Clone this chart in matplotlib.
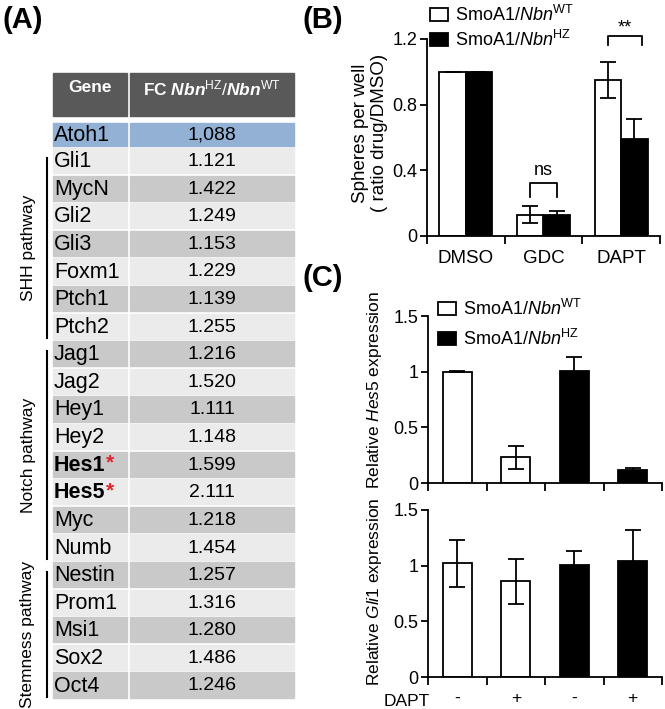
import matplotlib
matplotlib.use("Agg")
import matplotlib.pyplot as plt
from matplotlib.patches import Rectangle

plt.rcParams['font.family'] = 'Liberation Sans'
plt.rcParams['mathtext.fontset'] = 'custom'
plt.rcParams['mathtext.rm'] = 'Liberation Sans'
plt.rcParams['mathtext.it'] = 'Liberation Sans:italic'
plt.rcParams['mathtext.bf'] = 'Liberation Sans:bold'
plt.rcParams['mathtext.bfit'] = 'Liberation Sans:italic:bold'

W, H = 665, 709

# ---------------------------------------------------------------------------
# Panel A -- fold-change table
# ---------------------------------------------------------------------------
genes = ['Atoh1', 'Gli1', 'MycN', 'Gli2', 'Gli3', 'Foxm1', 'Ptch1', 'Ptch2',
         'Jag1', 'Jag2', 'Hey1', 'Hey2', 'Hes1', 'Hes5', 'Myc', 'Numb',
         'Nestin', 'Prom1', 'Msi1', 'Sox2', 'Oct4']
fold_change = ['1,088', '1.121', '1.422', '1.249', '1.153', '1.229', '1.139',
               '1.255', '1.216', '1.520', '1.111', '1.148', '1.599', '2.111',
               '1.218', '1.454', '1.257', '1.316', '1.280', '1.486', '1.246']
starred_genes = ['Hes1', 'Hes5']
pathways = ['SHH pathway', 'Notch pathway', 'Stemness pathway']
pathway_first = ['Gli1', 'Jag1', 'Nestin']
pathway_last = ['Ptch2', 'Numb', 'Oct4']

# ---------------------------------------------------------------------------
# Panel B -- sphere formation
# ---------------------------------------------------------------------------
treatments = ['DMSO', 'GDC', 'DAPT']
spheres_wt = [1.0, 0.13, 0.95]
spheres_wt_err = [0.0, 0.05, 0.11]
spheres_hz = [1.0, 0.13, 0.59]
spheres_hz_err = [0.0, 0.02, 0.12]

# ---------------------------------------------------------------------------
# Panel C -- qPCR
# ---------------------------------------------------------------------------
dapt_labels = ['-', '+', '-', '+']
genotype = ['WT', 'WT', 'HZ', 'HZ']
hes5 = [1.0, 0.23, 1.01, 0.12]
hes5_err = [0.005, 0.10, 0.12, 0.015]
gli1 = [1.02, 0.86, 1.01, 1.04]
gli1_err = [0.21, 0.20, 0.12, 0.28]

WT_LABEL = r'SmoA1/$\it{Nbn}^{\rm WT}$'
HZ_LABEL = r'SmoA1/$\it{Nbn}^{\rm HZ}$'
FILL = {'WT': 'white', 'HZ': 'black'}


def px_axes(fig, left, top, right, bottom):
    return fig.add_axes([left / W, 1 - bottom / H,
                         (right - left) / W, (bottom - top) / H])


def style(ax):
    for s in ['top', 'right']:
        ax.spines[s].set_visible(False)
    for s in ['left', 'bottom']:
        ax.spines[s].set_linewidth(1.3)
    ax.tick_params(axis='y', direction='out', length=5, width=1.3,
                   labelsize=13, pad=2)
    ax.tick_params(axis='x', which='major', length=0, labelsize=13.5, pad=10)
    ax.tick_params(axis='x', which='minor', direction='out', length=6,
                   width=1.3)


def add_legend(fig, x, y, spacing):
    handles = [Rectangle((0, 0), 1, 1, facecolor='white', edgecolor='black',
                         linewidth=1.3),
               Rectangle((0, 0), 1, 1, facecolor='black', edgecolor='black',
                         linewidth=1.3)]
    fig.legend(handles, [WT_LABEL, HZ_LABEL], loc='upper left',
               bbox_to_anchor=(x / W, 1 - y / H), frameon=False,
               fontsize=13, handlelength=1.0, handleheight=0.75,
               handletextpad=0.4, labelspacing=spacing, borderpad=0,
               borderaxespad=0)


fig = plt.figure(figsize=(W / 100, H / 100), dpi=100)

# ----- table -----
tab = fig.add_axes([0, 0, 1, 1])
tab.set_xlim(0, W)
tab.set_ylim(H, 0)
tab.axis('off')

gx0, gx1, fx0, fx1 = 53, 127, 130, 294
tab.add_patch(Rectangle((gx0, 72.5), gx1 - gx0, 43, color='#595959'))
tab.add_patch(Rectangle((fx0, 72.5), fx1 - fx0, 43, color='#595959'))
tab.text((gx0 + gx1) / 2, 88, 'Gene', color='white', fontsize=12.5,
         weight='bold', ha='center', va='center')
tab.text((fx0 + fx1) / 2, 88,
         r'FC $\mathbfit{Nbn}^{\rm HZ}/\mathbfit{Nbn}^{\rm WT}$',
         color='white', fontsize=12.5, weight='bold', ha='center',
         va='center')

row_top = {}
for i, (g, v) in enumerate(zip(genes, fold_change)):
    if i == 0:
        top, h, col = 122.5, 23.5, '#93b1d5'
    else:
        top, h = 148 + (i - 1) * 27.6, 25.2
        col = '#ebebeb' if i % 2 == 1 else '#c9c9c9'
    row_top[g] = (top, top + h)
    tab.add_patch(Rectangle((gx0, top), gx1 - gx0, h, color=col))
    tab.add_patch(Rectangle((fx0, top), fx1 - fx0, h, color=col))
    yc = top + h / 2 + 1
    t = tab.text(gx0 + 1, yc, g, fontsize=15.5, ha='left', va='center',
                 weight='bold' if g in starred_genes else 'normal')
    if g in starred_genes:
        tab.annotate('*', xy=(1, 1), xycoords=t, xytext=(0.5, 1),
                     textcoords='offset points', color='#e3242b',
                     fontsize=15, weight='bold', ha='left', va='top')
    tab.text((fx0 + fx1) / 2, yc, v, fontsize=14, ha='center',
             va='center')

for name, first, last in zip(pathways, pathway_first, pathway_last):
    y0 = row_top[first][0] + 10
    y1 = row_top[last][1] - 1
    tab.plot([46.5, 46.5], [y0, y1], color='black', lw=1.5)
    tab.text(28, (y0 + y1) / 2, name, rotation=90, fontsize=12.5,
             ha='center', va='center')

# ----- panel B -----
axb = px_axes(fig, 427, 39, 660, 236)
style(axb)
xs = list(range(len(treatments)))
bw = 0.34
axb.bar([x - bw / 2 for x in xs], spheres_wt, bw, color='white',
        edgecolor='black', linewidth=1.3, zorder=2)
axb.bar([x + bw / 2 for x in xs], spheres_hz, bw, color='black',
        edgecolor='black', linewidth=1.3, zorder=2)
axb.errorbar([x - bw / 2 for x in xs], spheres_wt, yerr=spheres_wt_err,
             fmt='none', ecolor='black', elinewidth=1.3, capsize=6,
             capthick=1.3, zorder=3)
axb.errorbar([x + bw / 2 for x in xs], spheres_hz, yerr=spheres_hz_err,
             fmt='none', ecolor='black', elinewidth=1.3, capsize=6,
             capthick=1.3, zorder=3)
axb.set_xlim(-0.5, 2.5)
axb.set_ylim(0, 1.2)
axb.set_yticks([0, 0.4, 0.8, 1.2])
axb.set_yticklabels(['0', '0.4', '0.8', '1.2'])
axb.set_xticks(xs)
axb.set_xticklabels(treatments)
axb.set_xticks([-0.5, 0.5, 1.5, 2.5], minor=True)

# significance brackets
axb.plot([1 - bw / 2, 1 - bw / 2, 1 + bw / 2, 1 + bw / 2],
         [0.24, 0.32, 0.32, 0.24], color='black', lw=1.3, clip_on=False)
axb.text(1.0, 0.345, 'ns', fontsize=13, ha='center', va='bottom')
axb.plot([2 - bw / 2, 2 - bw / 2, 2.27, 2.27],
         [1.163, 1.218, 1.218, 1.163], color='black', lw=1.3, clip_on=False)
axb.text(2.05, 1.215, '**', fontsize=13, ha='center', va='bottom')

add_legend(fig, 430, 5, 0.25)
fig.text(370 / W, 1 - 133 / H, 'Spheres per well\n( ratio drug/DMSO)',
         rotation=90, fontsize=13.5, ha='center', va='center',
         multialignment='center', linespacing=1.1)

# ----- panel C -----
xc = list(range(len(dapt_labels)))
colors = [FILL[g] for g in genotype]
for top, bottom, vals, errs, gene, ymid in [
        (316, 483, hes5, hes5_err, 'Hes5', 390),
        (510, 677, gli1, gli1_err, 'Gli1', 592)]:
    ax = px_axes(fig, 428, top, 662, bottom)
    style(ax)
    ax.bar(xc, vals, 0.5, color=colors, edgecolor='black', linewidth=1.3,
           zorder=2)
    ax.errorbar(xc, vals, yerr=errs, fmt='none', ecolor='black',
                elinewidth=1.3, capsize=6, capthick=1.3, zorder=3)
    ax.set_xlim(-0.5, 3.5)
    ax.set_ylim(0, 1.5)
    ax.set_yticks([0, 0.5, 1, 1.5])
    ax.set_yticklabels(['0', '0.5', '1', '1.5'])
    ax.set_xticks(xc)
    ax.set_xticks([-0.5, 0.5, 1.5, 2.5, 3.5], minor=True)
    if gene == 'Hes5':
        ax.set_xticklabels([])
    else:
        ax.set_xticklabels(dapt_labels, fontsize=12.5)
    fig.text(375 / W, 1 - ymid / H,
             r'Relative $\it{%s}$ expression' % gene, rotation=90,
             fontsize=12.5, ha='center', va='center')

fig.text(407 / W, 1 - 701 / H, 'DAPT', fontsize=12.5, ha='center',
         va='center')
add_legend(fig, 438, 299, 0.55)

# panel letters
for lab, x, y in [('(A)', 3, 20), ('(B)', 303, 20), ('(C)', 303, 278)]:
    fig.text(x / W, 1 - y / H, lab, fontsize=21, weight='bold', ha='left',
             va='center')

fig.savefig('out.png', dpi=100)
